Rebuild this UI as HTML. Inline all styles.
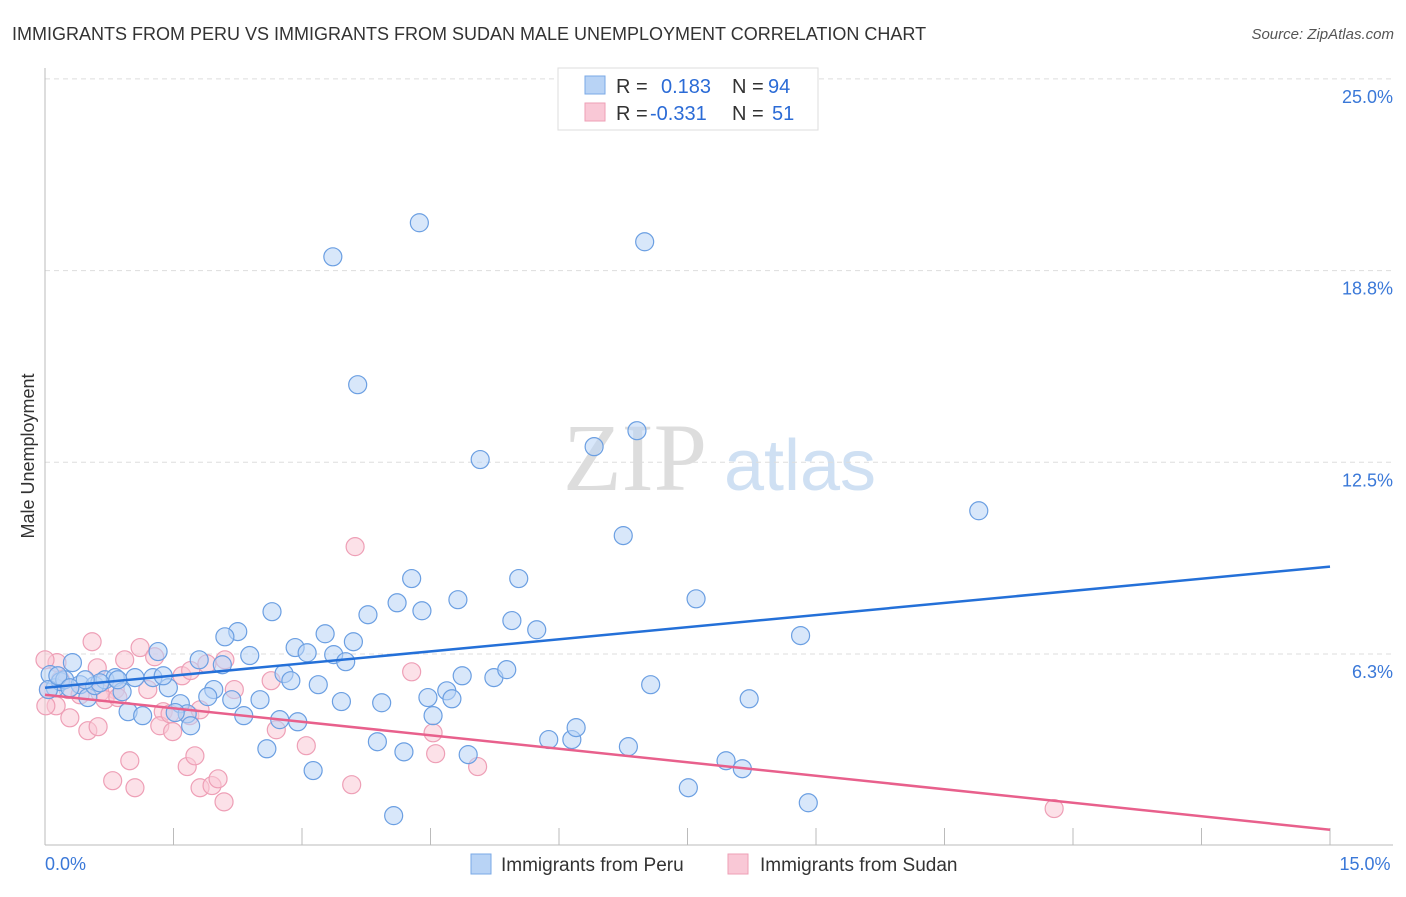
<!DOCTYPE html>
<html><head><meta charset="utf-8"><style>
body{margin:0;background:#fff;font-family:"Liberation Sans",sans-serif}
svg text{font-family:"Liberation Sans",sans-serif}
</style></head><body>
<svg width="1406" height="892" xmlns="http://www.w3.org/2000/svg">
<text x="12" y="40" font-size="18" fill="#333">IMMIGRANTS FROM PERU VS IMMIGRANTS FROM SUDAN MALE UNEMPLOYMENT CORRELATION CHART</text>
<text x="1394" y="39" font-size="15" fill="#555" font-style="italic" text-anchor="end">Source: ZipAtlas.com</text>
<g>
<text x="635" y="490" font-size="96" fill="#ddd" font-family="Liberation Serif" text-anchor="middle" style="font-family:'Liberation Serif',serif">ZIP</text>
<text x="800" y="490" font-size="72" fill="#cfe0f3" text-anchor="middle">atlas</text>
</g>
<g id="grid"></g>
<g id="axes"></g>
<g id="marks"></g>
<text transform="translate(34,456) rotate(-90)" font-size="18" fill="#333" text-anchor="middle">Male Unemployment</text>
<g>
<rect x="558" y="68" width="260" height="62" fill="#fff" stroke="#ddd"/>
<rect x="585" y="76" width="20" height="18" fill="#b8d3f5" stroke="#7aa8e6"/>
<rect x="585" y="103" width="20" height="18" fill="#f9c8d6" stroke="#ee9fb6"/>
<text x="616" y="93" font-size="20" fill="#333">R = </text><text x="661" y="93" font-size="20" fill="#2b6bd6">0.183</text>
<text x="732" y="93" font-size="20" fill="#333">N = </text><text x="768" y="93" font-size="20" fill="#2b6bd6">94</text>
<text x="616" y="120" font-size="20" fill="#333">R = </text><text x="650" y="120" font-size="20" fill="#2b6bd6">-0.331</text>
<text x="732" y="120" font-size="20" fill="#333">N = </text><text x="772" y="120" font-size="20" fill="#2b6bd6">51</text>
</g>
<g>
<rect x="471" y="854" width="20" height="20" fill="#b8d3f5" stroke="#7aa8e6"/>
<text x="501" y="871" font-size="19" fill="#333">Immigrants from Peru</text>
<rect x="728" y="854" width="20" height="20" fill="#f9c8d6" stroke="#ee9fb6"/>
<text x="760" y="871" font-size="19" fill="#333">Immigrants from Sudan</text>
</g>
</svg>
<script>
const yTicks=[25.0,18.8,12.5,6.3];
const yTickVals=[25,18.75,12.5,6.25];
const xTickLabels=["0.0%","15.0%"];
const peruX=[3.36,4.37,7.00,3.65,5.08,6.41,6.91,6.75,10.90,4.28,5.53,3.77,4.11,4.40,4.82,5.45,5.74,7.60,8.82,2.65,2.25,2.10,3.27,3.60,2.92,3.06,3.37,3.51,2.39,1.80,1.32,2.07,2.79,2.87,3.19,4.87,5.24,5.39,4.69,4.47,4.75,4.53,3.93,3.46,2.51,2.18,1.97,1.90,1.58,1.66,1.44,1.26,0.97,1.14,1.52,1.70,2.32,2.74,2.95,7.07,8.22,3.88,4.19,4.94,5.88,6.15,6.20,6.81,2.59,3.13,7.95,8.14,7.51,8.91,4.07,0.06,0.12,0.18,0.23,0.32,0.41,0.50,0.58,0.70,0.82,0.90,1.05,0.85,0.04,0.15,1.38,0.64,0.29,0.47];
const peruY=[19.20,20.31,19.69,15.03,12.59,13.01,13.53,10.11,10.92,8.71,8.71,7.53,7.92,7.66,8.02,7.34,7.04,8.05,6.85,7.63,6.98,6.81,6.91,6.65,6.46,6.29,6.23,6.00,6.20,6.06,6.33,5.90,5.61,5.38,5.25,5.54,5.48,5.74,5.05,4.83,4.79,4.24,4.66,4.70,4.76,4.76,5.09,4.86,4.63,4.30,5.15,5.48,4.37,4.24,4.34,3.91,4.24,4.11,4.04,5.25,4.79,3.39,3.06,2.97,3.46,3.46,3.85,3.23,3.16,2.45,2.77,2.51,1.89,1.40,0.98,5.58,5.15,5.35,5.41,5.97,5.25,4.83,5.22,5.41,5.48,5.02,5.48,5.41,5.09,5.54,5.54,5.31,5.15,5.41];
const sudanX=[0.55,1.11,1.28,0.93,0.61,1.60,1.70,1.89,2.10,1.20,0.82,0.14,0.00,0.27,0.41,0.64,0.70,0.85,0.13,0.29,0.50,0.62,1.38,1.34,1.49,1.69,1.81,1.46,2.21,2.64,2.70,3.05,4.28,4.53,4.56,3.62,5.05,0.99,0.79,1.05,1.66,1.75,1.81,1.95,2.02,2.09,3.58,11.78,0.01,0.04,0.18];
const sudanY=[6.65,6.46,6.16,6.06,5.80,5.54,5.71,5.93,6.06,5.09,5.09,5.97,6.06,5.09,4.92,4.99,4.76,4.83,4.56,4.17,3.75,3.88,4.37,3.91,3.72,4.24,4.43,4.30,5.09,5.38,3.78,3.26,5.67,3.68,3.00,9.75,2.58,2.77,2.12,1.89,2.58,2.93,1.89,1.96,2.18,1.43,1.99,1.21,4.56,5.09,5.41];
const peruTrend=[5.15,9.10];
const sudanTrend=[4.92,0.52];
const NS="http://www.w3.org/2000/svg";
const xs=v=>45+v/15*1285;
const ys=v=>845.7-v/6.25*191.7;
function mk(tag,attrs,parent){const e=document.createElementNS(NS,tag);for(const k in attrs)e.setAttribute(k,attrs[k]);document.getElementById(parent).appendChild(e);return e;}
yTickVals.forEach((v,i)=>{
 const l=mk('line',{x1:45,x2:1393,y1:ys(v),y2:ys(v),stroke:'#ddd','stroke-dasharray':'5,4'},'grid');
 
 
 const t=mk('text',{x:1393,y:ys(v)+24,'font-size':18,fill:'#3a78d8','text-anchor':'end'},'grid');
 t.textContent=yTicks[i].toFixed(1)+'%';
 
 
});
const ax=mk('line',{x1:45,x2:1393,y1:845,y2:845,stroke:'#bbb'},'axes');


const ay=mk('line',{x1:45,x2:45,y1:68,y2:845,stroke:'#bbb'},'axes');


for(let i=1;i<=10;i++){
 const tk=mk('line',{x1:xs(i*1.5),x2:xs(i*1.5),y1:828,y2:845,stroke:'#bbb'},'axes');
 
 
}
[[0,'start',45],[15,'middle',1365]].forEach((d,i)=>{
 const t=mk('text',{x:d[2],y:870,'font-size':18,fill:'#3a78d8','text-anchor':d[1]},'axes');
 t.textContent=xTickLabels[i];
 
 
});
function dots(X,Y,fill,stroke,name){X.forEach((x,i)=>{
 const c=mk('circle',{cx:xs(x),cy:ys(Y[i]),r:9,fill:fill,'fill-opacity':0.55,stroke:stroke,'stroke-width':1.2},'marks');
 
 
});}
dots(sudanX,sudanY,'#f9c8d6','#ee9fb6','sudan-point');
dots(peruX,peruY,'#b8d3f5','#6b9fe2','peru-point');
const t1=mk('line',{x1:xs(0),y1:ys(peruTrend[0]),x2:xs(15),y2:ys(peruTrend[1]),stroke:'#2470d8','stroke-width':2.5},'marks');


const t2=mk('line',{x1:xs(0),y1:ys(sudanTrend[0]),x2:xs(15),y2:ys(sudanTrend[1]),stroke:'#e8608c','stroke-width':2.5},'marks');


</script>
</body></html>
